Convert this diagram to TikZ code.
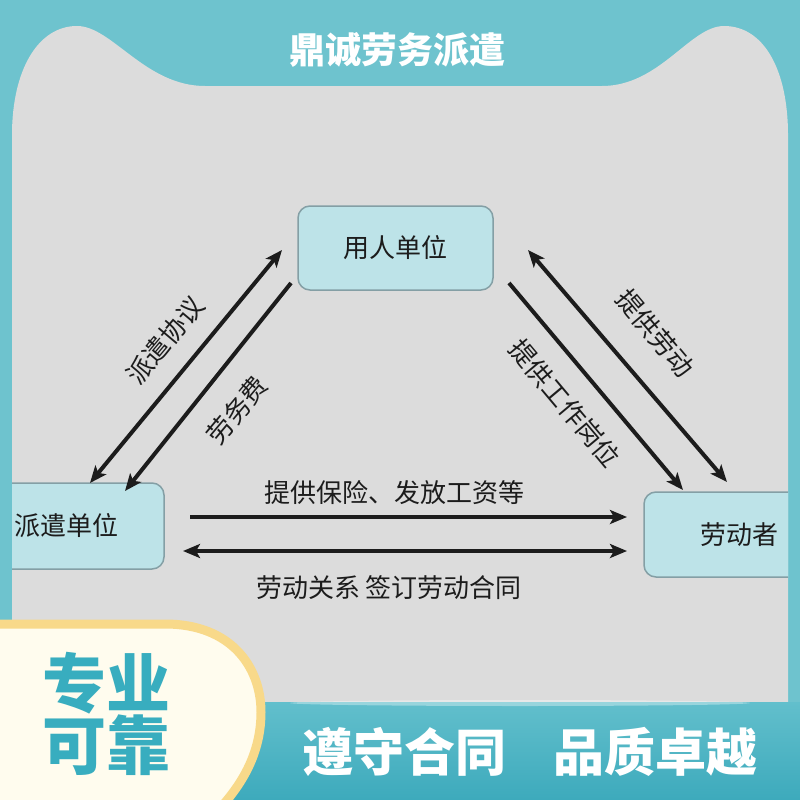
\documentclass[tikz,border=0pt]{standalone}
\usepackage{fontspec}
\newfontfamily\cjk{Noto Sans CJK SC}
\usetikzlibrary{arrows.meta,positioning}
\definecolor{tealbg}{HTML}{6EC3CE}
\definecolor{panel}{HTML}{DCDCDC}
\definecolor{boxfill}{HTML}{BDE3E8}
\definecolor{boxline}{HTML}{849FA5}
\definecolor{ink}{HTML}{1C1C1C}
\definecolor{bandtop}{HTML}{62BFCC}
\definecolor{bandbot}{HTML}{3DAABC}
\definecolor{cream}{HTML}{FFFCEE}
\definecolor{gold}{HTML}{F8D98A}
\definecolor{tealtxt}{HTML}{38ADBF}

\begin{document}
\begin{tikzpicture}[
  x=1pt, y=-1pt,
  box/.style={draw=boxline, fill=boxfill, rounded corners=12pt, line width=1.5pt,
    font=\cjk\fontsize{26}{26}\selectfont, text=ink},
  lbl/.style={font=\cjk\fontsize{26}{26}\selectfont, text=ink, inner sep=0pt},
  arr/.style={draw=ink, line width=4pt, >={Stealth[length=17pt, width=14pt, inset=4pt]}}
]
\useasboundingbox (0,0) rectangle (800,800);
\fill[tealbg] (0,0) rectangle (800,800);

% grey panel with the two ears on top
\path[fill=panel] (12,702) -- (12,135)
  .. controls (12,70) and (38,26) .. (77,26)
  .. controls (112,26) and (145,86) .. (205,86) -- (602,86)
  .. controls (660,86) and (690,26) .. (724,26)
  .. controls (764,26) and (788,70) .. (788,135) -- (788,702) -- cycle;
\node[font=\cjk\bfseries\fontsize{36}{36}\selectfont, text=white] (title) at (397,50) {鼎诚劳务派遣};

\begin{scope}
\clip (12,86) rectangle (788,702);
% boxes
\node[box, minimum width=195pt, minimum height=84pt] (yr) at (395.5,248) {用人单位};
\node[box, minimum width=190pt, minimum height=86pt, xshift=-4pt] (pq) at (73,526) {\hspace*{-6pt}派遣单位};
\node[box, minimum width=190pt, minimum height=85pt] (ldz) at (739,534.5) {劳动者};

% arrow ends
\coordinate (pq-r1) at (190,517);
\coordinate (ld-l1) at (627,517);
\coordinate (pq-r2) at (183,551);
\coordinate (ld-l2) at (627,551);
\coordinate (pq-t1) at (90,483);
\coordinate (yr-l1) at (282,250);
\coordinate (yr-l2) at (291,283);
\coordinate (pq-t2) at (125,491);
\coordinate (yr-r1) at (528,250);
\coordinate (ld-t1) at (727,482);
\coordinate (yr-r2) at (509,283);
\coordinate (ld-t2) at (683,490);

\draw[arr, <->] (pq-t1) -- (yr-l1);
\draw[arr, ->] (yr-l2) -- (pq-t2);
\draw[arr, <->] (yr-r1) -- (ld-t1);
\draw[arr, ->] (yr-r2) -- (ld-t2);
\draw[arr, ->] (pq-r1) -- (ld-l1);
\draw[arr, <->] (pq-r2) -- (ld-l2);

% labels
\node[lbl, rotate=50] (l-xy) at (165,340) {派遣协议};
\node[lbl, rotate=50] (l-lwf) at (237,410) {劳务费};
\node[lbl, rotate=-50] (l-tgld) at (655,333) {提供劳动};
\node[lbl, rotate=-50] (l-gw) at (565,403) {提供工作岗位};
\node[lbl] (l-bx) at (394,493) {提供保险、发放工资等};
\node[lbl] (l-ht) at (389,588) {劳动关系 签订劳动合同};
\end{scope}

% bottom band
\shade[top color=bandtop, bottom color=bandbot] (0,702) rectangle (800,800);
\fill[white, opacity=0.35] (520,703) ellipse (230 and 3);
\node[font=\cjk\bfseries\fontsize{51}{51}\selectfont, text=white] (motto) at (530,752) {遵守合同\hspace{0.92em}品质卓越};

% cream badge
\path[fill=cream, draw=gold, line width=9pt] (-10,624) -- (165,624)
  .. controls (232,624) and (261,668) .. (261,712)
  .. controls (261,750) and (245,780) .. (222,806) -- (-10,806) -- cycle;
\node[font=\cjk\bfseries\fontsize{64}{64}\selectfont, text=tealtxt, align=center] (badge) at (106,714)
  {专业\\[-2pt]可靠};
\end{tikzpicture}
\end{document}
